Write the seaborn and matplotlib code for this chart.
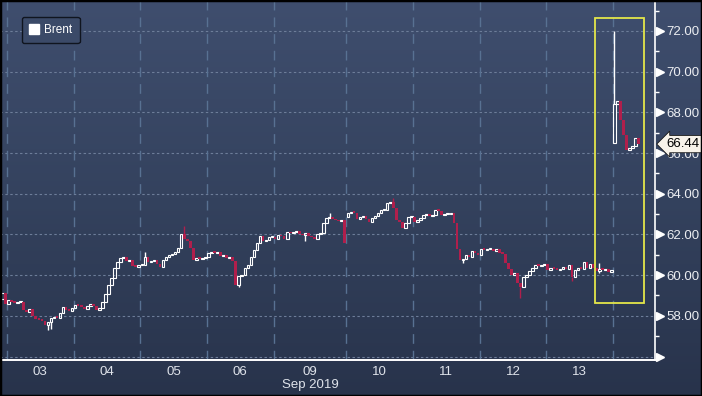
import numpy as np
import pandas as pd
import matplotlib
matplotlib.use("Agg")
import matplotlib.pyplot as plt
import matplotlib.transforms as mtransforms
import seaborn as sns
from matplotlib.colors import LinearSegmentedColormap
from matplotlib.patches import Rectangle
from matplotlib.lines import Line2D

# Brent hourly candles, Sep 2019 (closes, one list per trading day)
day_labels = ["02", "03", "04", "05", "06", "09", "10", "11", "12", "13", "16"]
d02 = [59.1, 58.6]
d03 = [58.8, 58.7, 58.65, 58.7, 58.7, 58.3, 58.2, 58.35, 58.0, 57.85, 57.8,
       57.75, 57.55, 57.7, 57.9, 57.95, 57.9, 58.15, 58.45, 58.3, 58.25, 58.4]
d04 = [58.55, 58.5, 58.45, 58.35, 58.5, 58.6, 58.5, 58.3, 58.4, 58.7, 59.05,
       59.5, 59.85, 60.35, 60.65, 60.85, 60.9, 60.7, 60.75, 60.45, 60.4, 60.5]
d05 = [60.5, 60.9, 60.65, 60.7, 60.75, 60.55, 60.4, 60.75, 60.9, 61.0, 61.05,
       61.15, 61.35, 62.0, 61.8, 61.7, 61.35, 60.75, 60.85, 60.8, 60.85, 60.9]
d06 = [61.1, 61.15, 61.1, 61.15, 60.95, 61.0, 60.85, 60.9, 60.7, 59.5, 59.95,
       60.0, 60.35, 60.5, 60.9, 61.25, 61.6, 61.9, 61.7, 61.75, 61.85, 61.85]
d09 = [61.8, 61.95, 61.9, 61.8, 62.1, 62.05, 62.1, 62.15, 62.0, 61.95, 62.05, 61.9,
       61.85, 61.8, 62.0, 62.05, 62.55, 62.8, 62.85, 62.75, 62.7, 62.65, 62.7, 61.6]
d10 = [63.05, 63.1, 63.05, 62.75, 62.85, 62.9, 62.75, 62.6, 62.8, 62.9, 63.05,
       63.2, 63.2, 63.55, 63.6, 63.3, 62.7, 62.6, 62.3, 62.55, 62.85, 62.85]
d11 = [62.6, 62.7, 62.8, 62.95, 62.95, 62.9, 62.95, 63.2, 63.15, 62.95, 63.0,
       63.0, 63.05, 62.55, 61.3, 60.75, 60.8, 61.0, 60.9, 61.2, 61.1, 61.0]
d12 = [61.3, 61.25, 61.3, 61.3, 61.2, 61.3, 61.1, 61.05, 60.6, 60.3, 60.0,
       60.1, 59.6, 59.4, 59.9, 60.0, 60.2, 60.35, 60.5, 60.45, 60.5, 60.55]
d13 = [60.25, 60.35, 60.3, 60.25, 60.3, 60.4, 60.3, 60.5, 59.9, 60.25, 60.35,
       60.3, 60.65, 60.35, 60.55, 60.35, 60.2, 60.3, 60.25, 60.3, 60.15, 60.25]
d16 = [68.4, 68.55, 67.6, 66.9, 66.15, 66.25, 66.35, 66.75, 66.44]
closes_by_day = [d02, d03, d04, d05, d06, d09, d10, d11, d12, d13, d16]

# opens that gap away from the previous close
open_gaps = {("02", 0): 58.85, ("10", 0): 62.85, ("16", 0): 66.5}
# (day, candle, low, high) for the longer shadows
shadows = [("03", 13, 57.3, None), ("03", 14, 57.35, None), ("05", 1, None, 61.15),
           ("05", 14, None, 62.4), ("06", 10, 59.4, None), ("09", 10, 61.7, None),
           ("09", 18, None, 63.05), ("10", 15, None, 63.8), ("11", 16, 60.6, None),
           ("12", 13, 58.9, None), ("13", 8, 59.7, None), ("13", 17, 60.1, 60.6),
           ("16", 0, None, 72.0)]
last_price = 66.44
y_ticks = [56, 58, 60, 62, 64, 66, 68, 70, 72]
y_labels = ["", "58.00", "60.00", "62.00", "64.00", "66.00", "68.00", "70.00", "72.00"]
y_minor = [57, 59, 61, 63, 65, 67, 69, 71, 73]

# build candle table
rows = []
start = -2
day_starts = []
prev_close = None
for lab, closes in zip(day_labels, closes_by_day):
    day_starts.append((lab, start, len(closes)))
    for k, c in enumerate(closes):
        o = open_gaps.get((lab, k), prev_close)
        rows.append({"day": lab, "k": k, "x": start + k + 0.5, "open": o, "close": c})
        prev_close = c
    start += len(closes)
df = pd.DataFrame(rows)
df["high"] = df[["open", "close"]].max(axis=1)
df["low"] = df[["open", "close"]].min(axis=1)
for lab, k, lo, hi in shadows:
    m = (df["day"] == lab) & (df["k"] == k)
    if lo is not None:
        df.loc[m, "low"] = lo
    if hi is not None:
        df.loc[m, "high"] = hi
df["up"] = df["close"] >= df["open"]

sns.set_theme(style="dark")
plt.rcParams["font.family"] = ["Liberation Sans Narrow", "Liberation Sans", "DejaVu Sans"]

fig = plt.figure(figsize=(7.02, 3.96), dpi=100)

# background gradient
bg = fig.add_axes([0, 0, 1, 1], zorder=0)
grad = np.linspace(0, 1, 256).reshape(-1, 1)
cmap = LinearSegmentedColormap.from_list("bg", ["#3f4e6e", "#34425e", "#28334b"])
bg.imshow(grad, aspect="auto", cmap=cmap, extent=[0, 1, 0, 1], origin="upper")
bg.axis("off")

ax = fig.add_axes([0, 36 / 396, 655 / 702, 360 / 396], zorder=1)
ax.patch.set_alpha(0)

red = "#b01f4c"
white = "#ffffff"

# grid
for y in y_ticks:
    ax.axhline(y, color="#6d7d99", lw=0.8, ls=(0, (2.2, 2.2)), zorder=1)
for lab, s, n in day_starts[1:]:
    ax.axvline(s, color="#587192", lw=1.0, ls=(0, (7, 5)), zorder=1)

# candles
w = 0.85
body_lo = df[["open", "close"]].min(axis=1)
body_hi = df[["open", "close"]].max(axis=1)
cols = np.where(df["up"], white, red)
ax.vlines(df["x"], body_hi, df["high"], colors=cols, lw=1.0, zorder=3)
ax.vlines(df["x"], df["low"], body_lo, colors=cols, lw=1.0, zorder=3)
up = df[df["up"]]
dn = df[~df["up"]]
ax.bar(up["x"], np.maximum(up["close"] - up["open"], 0.05), bottom=up["open"],
       width=w, facecolor="none", edgecolor=white, lw=0.8, zorder=4)
ax.bar(dn["x"], np.maximum(dn["open"] - dn["close"], 0.08), bottom=dn["close"],
       width=w, color=red, lw=0, zorder=4)

# highlight box around the Monday spike
ax.add_patch(Rectangle((194.1, 58.63), 16.1, 14.01, fill=False, ec="#e4e64a", lw=1.3, zorder=5))

ax.set_xlim(-2.31, 213.9)
ax.set_ylim(55.83, 73.52)

# x labels at the middle of each full day
centers = [s + n / 2 for lab, s, n in day_starts[1:-1]]
ax.set_xticks(centers)
ax.set_xticklabels([lab for lab, s, n in day_starts[1:-1]])
ax.tick_params(axis="x", length=0, pad=4, labelsize=9.5, colors="#dfe3ea")

# right hand price axis
ax.yaxis.tick_right()
ax.set_yticks(y_ticks)
ax.set_yticklabels(y_labels)
ax.set_yticks(y_minor, minor=True)
ax.tick_params(axis="y", which="major", length=0, pad=8, labelsize=9.5, colors="#eceef2")
ax.tick_params(axis="y", which="minor", length=3, width=1, color=white, direction="out")
trans = mtransforms.blended_transform_factory(ax.transAxes, ax.transData)
ax.plot([1.0075] * len(y_ticks), y_ticks, ls="none", marker=">", ms=5.5,
        color=white, transform=trans, clip_on=False, zorder=6)
ax.text(1.017, last_price, f"{last_price:.2f}", transform=trans, ha="left", va="center",
        fontsize=9.5, color="black", zorder=10,
        bbox=dict(boxstyle="larrow,pad=0.2", fc="#f8f3ea", ec="#1a1a1a", lw=0.6))

for side in ["left", "top"]:
    ax.spines[side].set_visible(False)
ax.spines["right"].set_color(white)
ax.spines["right"].set_linewidth(1.2)
ax.spines["bottom"].set_color(white)
ax.spines["bottom"].set_linewidth(1.4)
ax.set_xlabel("")
ax.set_ylabel("")
ax.grid(False)

handle = Line2D([], [], ls="none", marker="s", markersize=7,
                markerfacecolor=white, markeredgecolor=white)
leg = ax.legend([handle], ["Brent"], loc="upper left", bbox_to_anchor=(22 / 655, 1 - 17 / 360),
                borderaxespad=0, frameon=True, fancybox=True, facecolor="#3b4a68",
                edgecolor="#10151f", framealpha=1, fontsize=8.5, labelcolor="white",
                handlelength=0.8, handletextpad=0.5, borderpad=0.6)
leg.get_frame().set_linewidth(1.0)

fig.text(310 / 702, 11 / 396, "Sep 2019", ha="center", va="center", fontsize=9.5, color="#dfe3ea")
fig.patches.append(Rectangle((0, 0), 1, 1, transform=fig.transFigure, fill=False,
                             ec="black", lw=2.5, zorder=20))

fig.savefig("out.png", dpi=100)
